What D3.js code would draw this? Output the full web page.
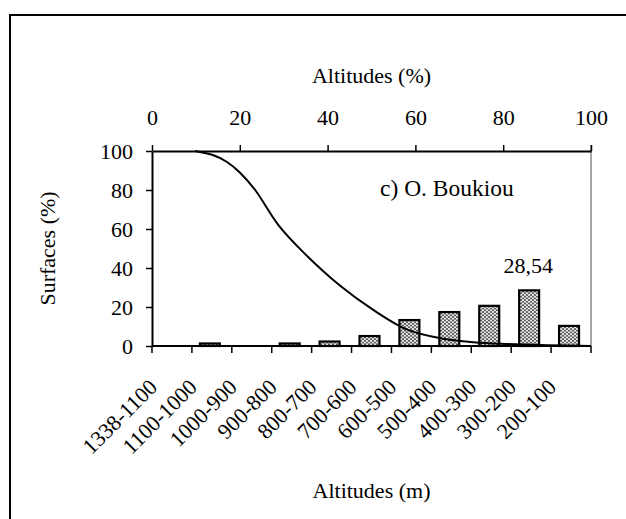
<!DOCTYPE html>
<html><head><meta charset="utf-8">
<script src="https://cdn.jsdelivr.net/npm/d3@7/dist/d3.min.js"></script>
<style>
html,body{margin:0;padding:0;background:#fff;}
svg{display:block;font-family:"Liberation Serif","Times New Roman",serif;}
</style></head>
<body>
<svg id="chart" width="626" height="519"></svg>
<script>
// ---- data ----
const categories = ["1338-1100","1100-1000","1000-900","900-800","800-700","700-600","600-500","500-400","400-300","300-200","200-100"];
const surfaces = [0, 1.3, 0, 1.3, 2.3, 5.1, 13.3, 17.4, 20.6, 28.54, 10.3];
const curveAlt = [9.8, 14, 17, 20, 23.5, 28.8, 34.5, 42.8, 50.4, 58.0, 65.6, 73.2, 80.8, 90, 100];
const curveSurf = [100, 97.8, 94.5, 89, 80, 62, 48, 31, 18.5, 8.5, 4.0, 1.9, 1.0, 0.4, 0];
const topTicks = [0, 20, 40, 60, 80, 100];
const yTicks = [0, 20, 40, 60, 80, 100];
const peakLabel = "28,54";
const title = "c) O. Boukiou";

const svg = d3.select("#chart");
const L = 152, R = 591, T = 151, B = 346;

const x = d3.scaleBand().domain(categories).range([L, R]).padding(0);
const xTop = d3.scaleLinear().domain([0, 100]).range([L, R]);
const y = d3.scaleLinear().domain([0, 100]).range([B, T]);

// outer frame (only left/top visible)
svg.append("rect").attr("x", 10).attr("y", 15).attr("width", 700).attr("height", 600)
  .attr("fill", "none").attr("stroke", "#000").attr("stroke-width", 2);

// pattern
const defs = svg.append("defs");
const pat = defs.append("pattern").attr("id", "dots").attr("patternUnits", "userSpaceOnUse")
  .attr("width", 4).attr("height", 3.4);
pat.append("rect").attr("width", 4).attr("height", 3.4).attr("fill", "#ececec");
pat.append("circle").attr("cx", 1).attr("cy", 0.9).attr("r", 0.95).attr("fill", "#333");
pat.append("circle").attr("cx", 3).attr("cy", 2.6).attr("r", 0.95).attr("fill", "#333");

// right plot border (gray)
svg.append("line").attr("x1", R).attr("x2", R).attr("y1", T - 6).attr("y2", B)
  .attr("stroke", "#8a8a8a").attr("stroke-width", 1.5);

// bars
const bw = x.bandwidth() * 0.5;
svg.append("g").selectAll("rect").data(categories.map((c, i) => ({c, v: surfaces[i]})).filter(d => d.v > 0))
  .join("rect")
  .attr("x", d => x(d.c) + x.bandwidth() / 2 - bw / 2 - 2)
  .attr("y", d => y(d.v))
  .attr("width", bw)
  .attr("height", d => y(0) - y(d.v))
  .attr("fill", "url(#dots)")
  .attr("stroke", "#000").attr("stroke-width", 2.2);

// curve
const line = d3.line().x(d => xTop(d[0])).y(d => y(d[1])).curve(d3.curveCatmullRom.alpha(0.5));
svg.append("path").datum(curveAlt.map((a, i) => [a, curveSurf[i]]))
  .attr("d", line).attr("fill", "none").attr("stroke", "#000").attr("stroke-width", 2);

// top axis
const gTop = svg.append("g").attr("transform", `translate(0,${T})`)
  .call(d3.axisTop(xTop).tickValues(topTicks).tickSize(6).tickSizeOuter(0).tickPadding(20));
gTop.select(".domain").attr("stroke", "#000").attr("stroke-width", 2);
gTop.selectAll(".tick line").attr("stroke-width", 1.5);
gTop.selectAll(".tick text").attr("font-size", 22).attr("font-family", "Liberation Serif").attr("fill", "#000");

// left axis
const gLeft = svg.append("g").attr("transform", `translate(${L},0)`)
  .call(d3.axisLeft(y).tickValues(yTicks).tickSize(6).tickSizeOuter(0).tickPadding(13));
gLeft.select(".domain").attr("stroke-width", 2);
gLeft.selectAll(".tick line").attr("stroke-width", 1.5);
gLeft.selectAll(".tick text").attr("font-size", 22).attr("font-family", "Liberation Serif").attr("fill", "#000");

// bottom axis (ticks at band boundaries)
const gBot = svg.append("g");
gBot.append("line").attr("x1", L).attr("x2", R).attr("y1", B).attr("y2", B)
  .attr("stroke", "#000").attr("stroke-width", 2);
const bounds = categories.map(c => x(c)).concat([x.range()[1]]);
gBot.selectAll("line.tk").data(bounds).join("line").attr("class", "tk")
  .attr("x1", d => d).attr("x2", d => d).attr("y1", B).attr("y2", B + 7)
  .attr("stroke", "#000").attr("stroke-width", 1.5);
gBot.selectAll("text").data(categories).join("text")
  .attr("transform", d => `translate(${x(d) + 1},${B + 37}) rotate(-45)`)
  .attr("text-anchor", "end").attr("dy", "0.35em")
  .attr("font-size", 22).text(d => d);

// titles
svg.append("text").attr("x", (L + R) / 2).attr("y", 83).attr("text-anchor", "middle")
  .attr("font-size", 22).text("Altitudes (%)");
svg.append("text").attr("x", (L + R) / 2).attr("y", 498).attr("text-anchor", "middle")
  .attr("font-size", 22).text("Altitudes (m)");
svg.append("text").attr("transform", `translate(55,${(T + B) / 2}) rotate(-90)`)
  .attr("text-anchor", "middle").attr("font-size", 22).text("Surfaces (%)");
svg.append("text").attr("x", 380).attr("y", 196).attr("font-size", 23.5).text(title);

// peak label
const peakIdx = surfaces.indexOf(d3.max(surfaces));
svg.append("text").attr("x", x(categories[peakIdx]) + x.bandwidth() / 2 - 3).attr("y", y(surfaces[peakIdx]) - 17)
  .attr("text-anchor", "middle").attr("font-size", 22).text(peakLabel);
</script>
</body></html>
